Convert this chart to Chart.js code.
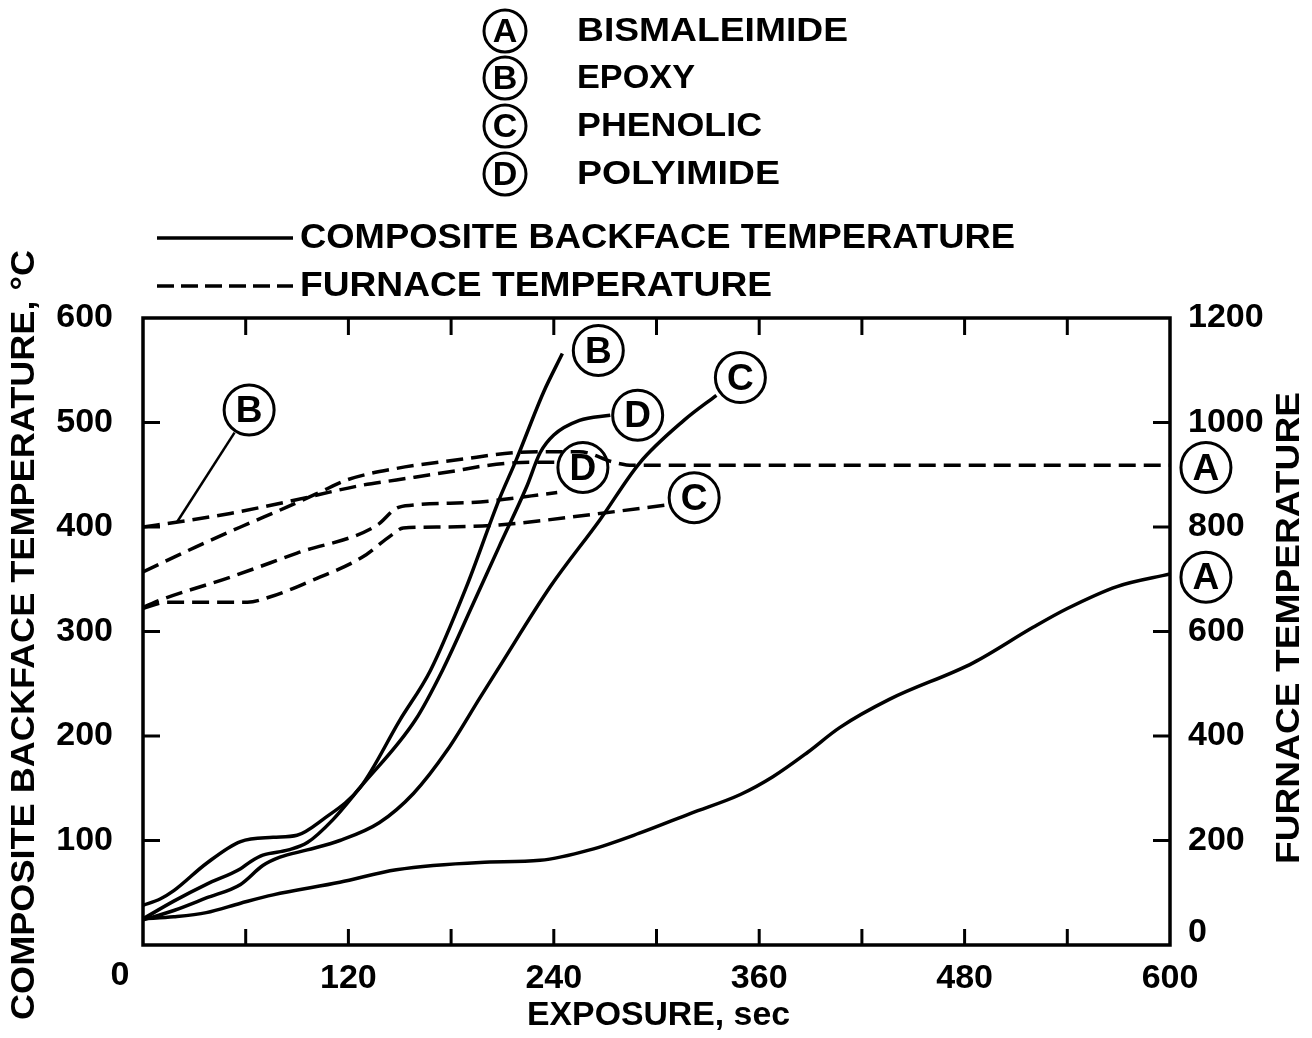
<!DOCTYPE html>
<html>
<head>
<meta charset="utf-8">
<script src="https://cdn.jsdelivr.net/npm/chart.js@4.4.1/dist/chart.umd.min.js"></script>
<style>
html, body { margin: 0; padding: 0; background: #fff; }
#wrap { width: 1312px; height: 1038px; }
</style>
</head>
<body>
<div id="wrap"><canvas id="myChart" width="1312" height="1038"></canvas></div>
<script>
'use strict';

//backface temperature, deg C (left axis), time in sec
let timeA = [0, 18, 37, 57, 76, 115, 148, 197, 232, 261, 290, 320, 349, 368, 388, 407, 436, 485, 520, 540, 569, 600];
let backfaceA = [25, 27, 31, 40, 48, 60, 72, 79, 81, 91, 107, 126, 144, 161, 184, 208, 235, 270, 304, 322, 343, 355];
let timeB = [0, 10, 18, 37, 57, 76, 90, 105, 127, 150, 168, 189, 208, 218, 234, 245];
let backfaceB = [38, 44, 52, 78, 99, 103, 105, 120, 151, 215, 263, 343, 426, 464, 529, 566];
let timeC = [0, 18, 37, 57, 70, 80, 96, 115, 138, 158, 178, 197, 207, 238, 267, 290, 316, 335];
let backfaceC = [24, 33, 45, 58, 76, 84, 91, 100, 117, 145, 187, 237, 263, 343, 407, 461, 502, 526];
let timeD = [0, 18, 37, 57, 63, 70, 85, 96, 111, 127, 159, 175, 193, 208, 224, 232, 240, 255, 273];
let backfaceD = [25, 42, 58, 73, 80, 86, 91, 98, 120, 151, 215, 263, 327, 381, 438, 471, 488, 502, 507];

//furnace temperature, deg C (right axis)
let furnaceTimeA = [0, 31, 57, 84, 103, 119, 148, 187, 216, 236, 255, 275, 286, 310, 600];
let furnaceA = [714, 762, 800, 838, 866, 890, 912, 930, 942, 944, 944, 924, 918, 918, 918];
let furnaceTimeB = [0, 25, 51, 84, 128, 148, 187, 197, 226, 243];
let furnaceB = [800, 812, 826, 848, 880, 890, 910, 916, 924, 924];
let furnaceTimeC = [0, 14, 40, 61, 74, 99, 128, 145, 152, 175, 208, 267, 306];
let furnaceC = [644, 656, 656, 656, 666, 698, 742, 784, 798, 800, 804, 826, 842];
let furnaceTimeD = [0, 10, 51, 90, 137, 148, 158, 197, 242];
let furnaceD = [646, 660, 704, 750, 804, 836, 842, 848, 866];

//tick settings
let xMax = 600;
let leftMax = 600;
let rightMax = 1200;

//legend text
let resinLetters = ['A', 'B', 'C', 'D'];
let resinNames = ['BISMALEIMIDE', 'EPOXY', 'PHENOLIC', 'POLYIMIDE'];
let lineNames = ['COMPOSITE BACKFACE TEMPERATURE', 'FURNACE TEMPERATURE'];

//circled letters on the plot (time, left axis temperature)
let markLetters = ['B', 'B', 'D', 'C', 'D', 'C', 'A', 'A'];
let markTime = [62, 266, 289, 349, 257, 322, 621, 621];
let markTemp = [512, 569, 507, 543, 457, 428, 457, 352];

let fontName = "'Liberation Sans', Arial, sans-serif";

function toPoints(times, values) {
    let points = [];
    for (let i = 0; i < times.length; i++) {
        points.push({ x: times[i], y: values[i] });
    }
    return points;
}

function lineSet(times, values, axis, dashed) {
    return {
        data: toPoints(times, values),
        yAxisID: axis,
        borderColor: '#000',
        borderWidth: 3.5,
        borderDash: dashed ? [17, 8] : [],
        pointRadius: 0,
        fill: false,
        cubicInterpolationMode: 'monotone'
    };
}

//draw text squeezed or stretched to a given width
function fitText(ctx, text, x, y, width) {
    let w = ctx.measureText(text).width;
    ctx.save();
    ctx.translate(x, y);
    ctx.scale(width / w, 1);
    ctx.textAlign = 'left';
    ctx.fillText(text, 0, 0);
    ctx.restore();
}

function circled(ctx, letter, cx, cy, r, size) {
    ctx.beginPath();
    ctx.arc(cx, cy, r, 0, Math.PI * 2);
    ctx.lineWidth = 3;
    ctx.stroke();
    ctx.font = 'bold ' + size + 'px ' + fontName;
    ctx.textAlign = 'center';
    ctx.textBaseline = 'middle';
    ctx.fillText(letter, cx, cy + 2);
}

let paperPlugin = {
    id: 'paperPlugin',
    afterDraw: function (chart) {
        let ctx = chart.ctx;
        let area = chart.chartArea;
        let xs = chart.scales.x;
        let ys = chart.scales.y;
        ctx.save();
        ctx.strokeStyle = '#000';
        ctx.fillStyle = '#000';

        //frame
        ctx.lineWidth = 3.5;
        ctx.setLineDash([]);
        ctx.strokeRect(area.left, area.top, area.right - area.left, area.bottom - area.top);

        //inward ticks
        ctx.lineWidth = 3;
        for (let t = 60; t < xMax; t += 60) {
            let px = xs.getPixelForValue(t);
            ctx.beginPath();
            ctx.moveTo(px, area.bottom);
            ctx.lineTo(px, area.bottom - 16);
            ctx.moveTo(px, area.top);
            ctx.lineTo(px, area.top + 17);
            ctx.stroke();
        }
        for (let v = 100; v < leftMax; v += 100) {
            let py = ys.getPixelForValue(v);
            ctx.beginPath();
            ctx.moveTo(area.left, py);
            ctx.lineTo(area.left + 17, py);
            ctx.moveTo(area.right, py);
            ctx.lineTo(area.right - 17, py);
            ctx.stroke();
        }

        //corner zero and right zero
        ctx.font = 'bold 34px ' + fontName;
        ctx.textAlign = 'center';
        ctx.textBaseline = 'middle';
        ctx.fillText('0', area.left - 23, area.bottom + 31);
        ctx.textAlign = 'left';
        ctx.fillText('0', area.right + 18, area.bottom - 12);

        //circled letters on the plot
        for (let i = 0; i < markLetters.length; i++) {
            circled(ctx, markLetters[i], xs.getPixelForValue(markTime[i]), ys.getPixelForValue(markTemp[i]), 25, 37);
        }
        //leader from the first B to its furnace curve
        let bx = xs.getPixelForValue(markTime[0]);
        let by = ys.getPixelForValue(markTemp[0]);
        let ex = xs.getPixelForValue(20);
        let ey = ys.getPixelForValue(405);
        let len = Math.hypot(ex - bx, ey - by);
        ctx.lineWidth = 2.5;
        ctx.beginPath();
        ctx.moveTo(bx + (ex - bx) / len * 27, by + (ey - by) / len * 27);
        ctx.lineTo(ex, ey);
        ctx.stroke();

        //resin legend
        let rowY = [31, 78, 126, 174];
        let nameW = [271, 118, 185, 203];
        for (let i = 0; i < resinLetters.length; i++) {
            circled(ctx, resinLetters[i], 505, rowY[i], 21, 34);
            ctx.font = 'bold 33px ' + fontName;
            ctx.textBaseline = 'middle';
            fitText(ctx, resinNames[i], 577, rowY[i] + 1, nameW[i]);
        }

        //line style legend
        ctx.lineWidth = 3.5;
        ctx.beginPath();
        ctx.moveTo(157, 238);
        ctx.lineTo(293, 238);
        ctx.stroke();
        ctx.setLineDash([17, 7]);
        ctx.beginPath();
        ctx.moveTo(157, 286);
        ctx.lineTo(293, 286);
        ctx.stroke();
        ctx.setLineDash([]);
        ctx.font = 'bold 35px ' + fontName;
        ctx.textBaseline = 'middle';
        fitText(ctx, lineNames[0], 300, 238, 715);
        fitText(ctx, lineNames[1], 300, 286, 472);

        //axis titles
        ctx.font = 'bold 34px ' + fontName;
        fitText(ctx, 'EXPOSURE, sec', 527, 1016, 263);
        ctx.save();
        ctx.translate(25, 635);
        ctx.rotate(-Math.PI / 2);
        fitText(ctx, 'COMPOSITE BACKFACE TEMPERATURE, \u00B0C', -385, 0, 770);
        ctx.restore();
        ctx.save();
        ctx.translate(1290, 628);
        ctx.rotate(-Math.PI / 2);
        fitText(ctx, 'FURNACE TEMPERATURE', -236, 0, 472);
        ctx.restore();

        ctx.restore();
    }
};

let tickFont = { family: fontName, size: 34, weight: 'bold' };

let ctx = document.getElementById('myChart').getContext('2d');
let chart = new Chart(ctx, {
    type: 'line',
    data: {
        datasets: [
            lineSet(timeA, backfaceA, 'y', false),
            lineSet(timeB, backfaceB, 'y', false),
            lineSet(timeC, backfaceC, 'y', false),
            lineSet(timeD, backfaceD, 'y', false),
            lineSet(furnaceTimeA, furnaceA, 'y2', true),
            lineSet(furnaceTimeB, furnaceB, 'y2', true),
            lineSet(furnaceTimeC, furnaceC, 'y2', true),
            lineSet(furnaceTimeD, furnaceD, 'y2', true)
        ]
    },
    options: {
        responsive: false,
        animation: false,
        devicePixelRatio: 1,
        layout: { padding: { top: 318, left: 0, right: 0, bottom: 0 } },
        plugins: {
            legend: { display: false },
            tooltip: { enabled: false }
        },
        scales: {
            x: {
                type: 'linear',
                min: 0,
                max: xMax,
                grid: { display: false, drawTicks: false },
                border: { display: false },
                ticks: {
                    stepSize: 60,
                    padding: 13,
                    color: '#000',
                    font: tickFont,
                    maxRotation: 0,
                    autoSkip: false,
                    callback: function (v) { return (v % 120 === 0 && v !== 0) ? String(v) : ''; }
                },
                afterFit: function (scale) { scale.height = 93; }
            },
            y: {
                position: 'left',
                min: 0,
                max: leftMax,
                grid: { display: false, drawTicks: false },
                border: { display: false },
                ticks: {
                    stepSize: 100,
                    padding: 30,
                    color: '#000',
                    font: tickFont,
                    callback: function (v) { return v === 0 ? '' : String(v); }
                },
                afterFit: function (scale) { scale.width = 143; }
            },
            y2: {
                position: 'right',
                min: 0,
                max: rightMax,
                grid: { display: false, drawTicks: false },
                border: { display: false },
                ticks: {
                    stepSize: 200,
                    padding: 18,
                    color: '#000',
                    font: tickFont,
                    callback: function (v) { return v === 0 ? '' : String(v); }
                },
                afterFit: function (scale) { scale.width = 142; }
            }
        }
    },
    plugins: [paperPlugin]
});
</script>
</body>
</html>
